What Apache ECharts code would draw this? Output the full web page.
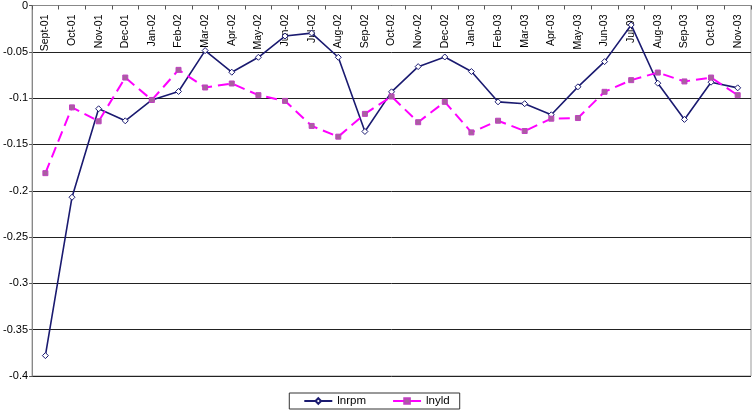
<!DOCTYPE html>
<html><head><meta charset="utf-8">
<script src="https://cdn.jsdelivr.net/npm/echarts@6/dist/echarts.min.js"></script>
<style>html,body{margin:0;padding:0;background:#fff}#c{width:753px;height:412px}</style>
</head><body><div id="c"></div>
<script>
const categories = ["Sept-01","Oct-01","Nov-01","Dec-01","Jan-02","Feb-02","Mar-02","Apr-02","May-02","Jun-02","Jul-02","Aug-02","Sep-02","Oct-02","Nov-02","Dec-02","Jan-03","Feb-03","Mar-03","Apr-03","May-03","Jun-03","Jul-03","Aug-03","Sep-03","Oct-03","Nov-03"];
const lnrpm = [-0.378,-0.207,-0.1115,-0.1245,-0.102,-0.0928,-0.0487,-0.072,-0.0559,-0.033,-0.0298,-0.0559,-0.136,-0.0932,-0.066,-0.0556,-0.0713,-0.104,-0.106,-0.118,-0.0878,-0.0606,-0.021,-0.0839,-0.123,-0.0828,-0.0889];
const lnyld = [-0.181,-0.110,-0.125,-0.0778,-0.102,-0.0695,-0.0885,-0.0842,-0.0968,-0.103,-0.130,-0.1416,-0.117,-0.0982,-0.126,-0.104,-0.137,-0.1244,-0.1355,-0.1222,-0.1215,-0.0932,-0.0806,-0.0724,-0.082,-0.0778,-0.0968];
const yTicks = {min:-0.4, max:0, interval:0.05};

const chart = echarts.init(document.getElementById('c'), null, {renderer:'canvas'});
const font = 'Liberation Sans, Arial, sans-serif';
chart.setOption({
  animation:false,
  grid:{left:30,right:2,top:4,bottom:36,show:true,borderColor:'#999',borderWidth:1},
  legend:{
    bottom:3,left:'center',
    data:['lnrpm','lnyld'],
    borderColor:'#333',borderWidth:1,padding:[2,10,2,14],itemGap:26,
    itemWidth:28,itemHeight:7,
    textStyle:{fontFamily:font,fontSize:11.5,color:'#000'}
  },
  xAxis:{
    type:'category',data:categories,position:'top',boundaryGap:true,
    axisLine:{lineStyle:{color:'#888',width:1}},
    axisTick:{show:true,inside:true,length:4,interval:0,lineStyle:{color:'#555'}},
    axisLabel:{inside:true,rotate:90,interval:0,fontFamily:font,fontSize:10.5,color:'#000',margin:9},
    splitLine:{show:false}
  },
  yAxis:{
    type:'value',min:yTicks.min,max:yTicks.max,interval:yTicks.interval,
    axisLine:{show:true,lineStyle:{color:'#888'}},
    axisTick:{show:true,length:3,lineStyle:{color:'#555'}},
    axisLabel:{fontFamily:font,fontSize:11,color:'#000',margin:4,
      formatter:v=>String(Math.round(v*100)/100)},
    splitLine:{lineStyle:{color:'#222',width:1}}
  },
  series:[
    {name:'lnrpm',type:'line',data:lnrpm,symbol:'diamond',symbolSize:6,
     lineStyle:{color:'#1a1a70',width:1.6},
     itemStyle:{color:'#fff',borderColor:'#1a1a70',borderWidth:1}},
    {name:'lnyld',type:'line',data:lnyld,symbol:'rect',symbolSize:5,
     lineStyle:{color:'#ff00ff',width:2,type:[11,6]},
     itemStyle:{color:'#a8609f',borderColor:'#c040c0',borderWidth:1}}
  ]
});
</script></body></html>
